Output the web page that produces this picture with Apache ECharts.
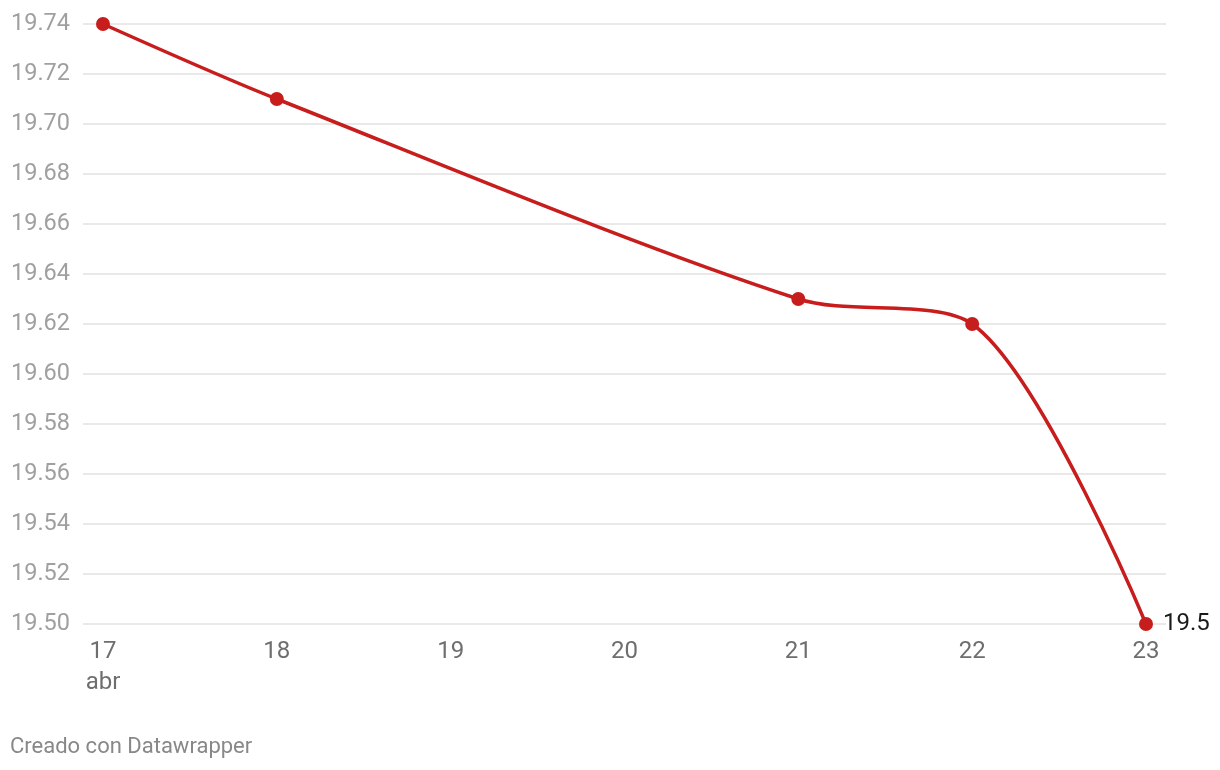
<!DOCTYPE html>
<html><head><meta charset="utf-8">
<script src="https://cdn.jsdelivr.net/npm/echarts@6/dist/echarts.min.js"></script>
<style>html,body{margin:0;padding:0;background:#fff}#c{width:1220px;height:770px}</style>
</head><body><div id="c"></div>
<script>
const days = [17, 18, 21, 22, 23];
const values = [19.74, 19.71, 19.63, 19.62, 19.50];
const yMin = 19.50, yMax = 19.74, yStep = 0.02;
const xMin = 17, xMax = 23;
const monthLabel = 'abr';
const footer = 'Creado con Datawrapper';

const chart = echarts.init(document.getElementById('c'), null, {renderer: 'canvas'});
const font = 'Roboto, "Noto Sans", sans-serif';
chart.setOption({
  animation: false,
  textStyle: {fontFamily: font},
  grid: [
    {left: 83, right: 54, top: 24, bottom: 146},
    {left: 103, right: 74, top: 24, bottom: 146}
  ],
  xAxis: [
    {gridIndex: 0, type: 'value', min: 0, max: 1, show: false},
    {gridIndex: 1, type: 'value', min: xMin, max: xMax, interval: 1,
     axisLine: {show: false}, axisTick: {show: false}, splitLine: {show: false},
     axisLabel: {color: '#6e6e6e', fontSize: 24, fontFamily: font, margin: 12, lineHeight: 31,
       formatter: v => v === xMin ? v + '\n' + monthLabel : String(v)}}
  ],
  yAxis: [
    {gridIndex: 0, type: 'value', min: yMin, max: yMax, interval: yStep,
     axisLine: {show: false}, axisTick: {show: false},
     splitLine: {lineStyle: {color: '#e2e2e2', width: 1.5}},
     axisLabel: {color: '#a0a0a0', fontSize: 23.5, fontFamily: font, margin: 13,
       formatter: v => v.toFixed(2)}},
    {gridIndex: 1, type: 'value', min: yMin, max: yMax, interval: yStep, show: false}
  ],
  series: [{
    type: 'line', xAxisIndex: 1, yAxisIndex: 1,
    data: days.map((d, i) => [d, values[i]]),
    smooth: 0.3,
    symbol: 'circle', symbolSize: 14,
    lineStyle: {color: '#c71e1d', width: 3.5},
    itemStyle: {color: '#c71e1d'},
    label: {show: true, position: 'right', distance: 10, color: '#1a1a1a', fontSize: 24, fontFamily: font,
      formatter: p => p.dataIndex === days.length - 1 ? String(p.value[1]) : ''}
  }],
  graphic: [{type: 'text', left: 10, top: 736,
    style: {text: footer, fill: '#888888', fontSize: 22, fontFamily: font}}]
});
</script></body></html>
